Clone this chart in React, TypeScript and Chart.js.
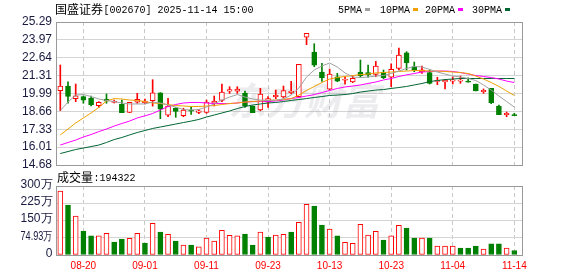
import React, { useEffect, useRef } from "react";
import { Chart, registerables } from "chart.js";

Chart.register(...registerables);

// ---------- data ----------
const titleName = "国盛证券";
const titleInfo = "[002670] 2025-11-14 15:00";
const volumeTitle = "成交量";
const volumeInfo = ":194322";
const maLabels = ["5PMA", "10PMA", "20PMA", "30PMA"];

const dates = [
  "08-15", "08-18", "08-19", "08-20", "08-21", "08-22", "08-25", "08-26", "08-27", "08-28",
  "08-29", "09-01", "09-02", "09-03", "09-04", "09-05", "09-08", "09-09", "09-10", "09-11",
  "09-12", "09-15", "09-16", "09-17", "09-18", "09-19", "09-22", "09-23", "09-24", "09-25",
  "09-26", "09-29", "09-30", "10-09", "10-10", "10-13", "10-14", "10-15", "10-16", "10-17",
  "10-20", "10-21", "10-22", "10-23", "10-24", "10-27", "10-28", "10-29", "10-30", "10-31",
  "11-03", "11-04", "11-05", "11-06", "11-07", "11-10", "11-11", "11-12", "11-13", "11-14",
];

const labelIndexes = [3, 11, 19, 27, 35, 43, 51, 59];

const opens = [
  20.19, 20.54, 19.60, 19.75, 19.63, 19.08, 19.58, 19.33, 19.18, 18.59,
  19.35, 19.31, 19.45, 20.03, 18.37, 18.91, 18.34, 18.76, 18.58, 18.59,
  19.26, 19.48, 20.15, 20.15, 20.02, 19.06, 18.76, 19.35, 19.73, 19.73,
  20.05, 19.75, 24.16, 23.06, 21.58, 20.30, 21.23, 20.97, 20.84, 21.58,
  21.53, 21.41, 21.56, 21.19, 21.85, 23.01, 21.98, 21.60, 21.53, 20.89,
  20.84, 20.91, 20.91, 20.91, 20.69, 20.12, 20.37, 19.06, 18.41, 18.41,
];
const highs = [
  22.10, 20.86, 20.69, 19.80, 19.80, 19.38, 19.95, 19.50, 19.50, 19.33,
  20.00, 19.58, 21.01, 20.05, 19.63, 18.93, 18.89, 19.00, 18.81, 19.50,
  19.80, 20.69, 20.49, 20.49, 20.17, 19.06, 20.37, 19.75, 20.24, 20.54,
  20.89, 22.15, 24.45, 23.68, 22.23, 21.80, 21.48, 21.23, 21.28, 22.47,
  22.10, 22.37, 21.73, 22.19, 23.36, 23.09, 22.32, 22.03, 21.73, 21.19,
  21.04, 21.23, 21.28, 21.14, 20.69, 20.32, 20.37, 19.13, 18.61, 18.52,
];
const lows = [
  18.71, 19.26, 19.38, 19.26, 19.06, 18.96, 19.26, 19.28, 18.56, 18.56,
  19.26, 19.21, 19.05, 18.12, 18.26, 18.22, 18.26, 18.44, 18.49, 18.52,
  19.06, 19.38, 19.99, 20.00, 18.96, 18.56, 18.71, 18.96, 19.60, 19.65,
  19.95, 19.70, 23.61, 21.97, 20.89, 20.24, 20.86, 20.67, 20.79, 21.19,
  21.19, 21.23, 21.09, 20.49, 21.73, 21.73, 21.60, 21.48, 20.69, 20.64,
  20.32, 20.69, 20.74, 20.82, 20.17, 20.00, 19.23, 18.41, 18.26, 18.34,
];
const closes = [
  20.54, 19.77, 19.81, 19.50, 19.13, 19.33, 19.41, 19.38, 18.56, 19.33,
  19.55, 19.43, 20.03, 18.82, 19.06, 18.66, 18.76, 18.68, 18.70, 19.35,
  19.43, 20.10, 20.28, 20.32, 19.06, 18.56, 19.95, 19.60, 19.87, 20.20,
  20.17, 22.15, 24.45, 22.08, 21.14, 21.43, 20.91, 21.04, 21.11, 21.31,
  21.38, 22.03, 21.16, 21.78, 22.84, 22.27, 21.70, 21.74, 20.74, 20.94,
  20.97, 21.00, 20.97, 20.82, 20.17, 20.22, 19.30, 18.41, 18.52, 18.34,
];

const ma5 = [
  18.72, 19.35, 19.87, 19.91, 19.76, 19.58, 19.47, 19.39, 19.28, 19.21,
  19.21, 19.21, 19.35, 19.28, 19.13, 18.98, 18.80, 18.76, 18.80, 18.98,
  19.21, 19.50, 19.72, 19.91, 19.72, 19.58, 19.50, 19.47, 19.50, 19.58,
  19.87, 20.39, 21.21, 21.73, 22.03, 22.25, 21.95, 21.51, 21.21, 21.17,
  21.21, 21.28, 21.32, 21.47, 21.65, 21.84, 21.99, 21.95, 21.77, 21.58,
  21.43, 21.28, 21.21, 21.10, 20.95, 20.62, 20.24, 19.80, 19.39, 18.98,
];
const ma10 = [
  16.91, 17.35, 17.80, 18.17, 18.54, 18.95, 19.43, 19.61, 19.58, 19.50,
  19.47, 19.39, 19.28, 19.24, 19.17, 19.09, 19.06, 19.02, 19.02, 19.06,
  19.09, 19.17, 19.24, 19.28, 19.35, 19.39, 19.43, 19.47, 19.50, 19.54,
  19.61, 19.87, 20.21, 20.51, 20.80, 21.06, 21.17, 21.25, 21.32, 21.39,
  21.43, 21.51, 21.54, 21.58, 21.62, 21.65, 21.69, 21.69, 21.65, 21.65,
  21.62, 21.58, 21.54, 21.47, 21.28, 21.06, 20.80, 20.51, 20.17, 19.84,
];
const ma20 = [
  16.16, 16.35, 16.53, 16.76, 16.94, 17.16, 17.35, 17.57, 17.76, 17.94,
  18.17, 18.33, 18.50, 18.76, 19.02, 19.17, 19.28, 19.32, 19.32, 19.28,
  19.24, 19.24, 19.24, 19.28, 19.35, 19.39, 19.39, 19.39, 19.43, 19.50,
  19.61, 19.69, 19.80, 19.90, 20.06, 20.21, 20.36, 20.47, 20.54, 20.62,
  20.73, 20.84, 20.99, 21.10, 21.25, 21.37, 21.47, 21.58, 21.62, 21.65,
  21.65, 21.62, 21.54, 21.43, 21.32, 21.25, 21.17, 21.06, 20.91, 20.80,
];
const ma30 = [
  15.53, 15.68, 15.83, 15.94, 16.05, 16.16, 16.35, 16.57, 16.72, 16.91,
  17.09, 17.24, 17.39, 17.50, 17.61, 17.72, 17.83, 17.94, 18.06, 18.24,
  18.39, 18.54, 18.69, 18.87, 19.02, 19.13, 19.21, 19.28, 19.32, 19.39,
  19.47, 19.54, 19.61, 19.69, 19.76, 19.84, 19.87, 19.91, 19.98, 20.09,
  20.17, 20.24, 20.28, 20.36, 20.43, 20.51, 20.62, 20.73, 20.87, 20.95,
  21.02, 21.06, 21.10, 21.10, 21.10, 21.10, 21.10, 21.10, 21.10, 21.10,
];

// volume in 万
const volumes = [
  278, 217, 169, 104, 83, 83, 94, 56, 69, 72,
  94, 52, 138, 100, 90, 61, 43, 43, 35, 74,
  61, 107, 85, 83, 91, 43, 100, 78, 87, 90,
  100, 142, 220, 213, 130, 113, 83, 55, 51, 133,
  87, 103, 65, 83, 129, 117, 74, 74, 74, 39,
  39, 39, 30, 30, 39, 26, 48, 48, 30, 19.43,
];

const priceTicks = [14.68, 16.0065, 17.333, 18.6595, 19.986, 21.3125, 22.639, 23.9655, 25.292];
const volumeTicks = [0, 74.93, 149.86, 224.79, 299.72];

// ---------- styles ----------
const RED = "#ff0000";
const GREEN = "#008000";
const MA_COLORS = ["#a0a0a0", "#f0a000", "#ff00ff", "#006633"];
const GRID = "#d4d4d4";
const VGRID = "#c8c8c8";
const FRAME = "#999999";
const AXIS_TEXT = "#1a1a40";
const X_MIN = -0.56;
const X_MAX = 60;

const fmtPrice = (v: number) => (Math.round(v * 100 + 1e-6) / 100).toFixed(2);
const fmtVol = (v: number) => (v === 0 ? "0" : v >= 100 ? Math.round(v) + "万" : v.toFixed(2) + "万");

const framePlugin = {
  id: "frame",
  afterDraw(chart: any) {
    const { ctx, chartArea: a } = chart;
    ctx.save();
    ctx.strokeStyle = FRAME;
    ctx.lineWidth = 1;
    ctx.strokeRect(a.left + 0.5, a.top + 0.5, a.right - a.left, a.bottom - a.top);
    ctx.restore();
  },
};

const watermarkPlugin = {
  id: "watermark",
  beforeDatasetsDraw(chart: any) {
    const ctx = chart.ctx;
    ctx.save();
    ctx.fillStyle = "rgba(150,150,160,0.18)";
    ctx.font = 'italic bold 38px "Noto Sans CJK SC"';
    ctx.textBaseline = "alphabetic";
    ctx.textAlign = "left";
    ctx.fillText("东方财富", 228, 115);
    ctx.restore();
  },
};

const headerPlugin = {
  id: "header",
  afterDraw(chart: any) {
    const ctx = chart.ctx;
    ctx.save();
    ctx.textBaseline = "alphabetic";
    ctx.textAlign = "left";
    ctx.fillStyle = "#000";
    ctx.font = '12px "Noto Sans CJK SC"';
    ctx.fillText(titleName, 55, 14);
    ctx.font = '10px "Liberation Mono"';
    ctx.fillText(titleInfo, 103.5, 13);
    const xs = [338, 380, 425, 472];
    maLabels.forEach((lab, i) => {
      ctx.fillStyle = "#000";
      ctx.fillText(lab, xs[i], 13);
      const w = ctx.measureText(lab).width;
      ctx.fillStyle = MA_COLORS[i];
      ctx.fillRect(Math.round(xs[i] + w + 3), 8, 5, 3);
    });
    ctx.restore();
  },
};

const volHeaderPlugin = {
  id: "volHeader",
  afterDraw(chart: any) {
    const ctx = chart.ctx;
    ctx.save();
    ctx.textBaseline = "alphabetic";
    ctx.textAlign = "left";
    ctx.fillStyle = "#000";
    ctx.font = '12px "Noto Sans CJK SC"';
    ctx.fillText(volumeTitle, 57, 182);
    ctx.font = '10px "Liberation Mono"';
    ctx.fillText(volumeInfo, 93.5, 181);
    // y labels (compressed to a fixed width like the original)
    const y = chart.scales.y;
    ctx.fillStyle = AXIS_TEXT;
    ctx.font = '12px "Liberation Sans"';
    ctx.textAlign = "right";
    ctx.textBaseline = "middle";
    volumeTicks.forEach((v) => {
      ctx.fillText(fmtVol(v), 52.5, y.getPixelForValue(v) - 1.5, 32);
    });
    ctx.restore();
  },
};

export default function App() {
  const mainRef = useRef<HTMLCanvasElement>(null);
  const volRef = useRef<HTMLCanvasElement>(null);

  useEffect(() => {
    const candleUp = closes.map((c, i) => c >= opens[i]);
    const volUp = closes.map((c, i) => (i === 0 ? true : c > closes[i - 1]));

    const xScaleBase = {
      type: "linear" as const,
      min: X_MIN,
      max: X_MAX,
      offset: false,
      afterBuildTicks: (s: any) => {
        s.ticks = labelIndexes.map((v) => ({ value: v }));
      },
      grid: { color: VGRID, drawTicks: false, offset: false, lineWidth: 1 },
      border: { display: false, dash: [4, 3] },
    };

    const maSeries = [ma5, ma10, ma20, ma30];

    const main = new Chart(mainRef.current!, {
      type: "bar",
      data: {
        datasets: [
          ...maSeries.map((arr, k) => ({
            type: "line" as const,
            data: arr.map((v, i) => ({ x: i, y: v })),
            borderColor: MA_COLORS[k],
            borderWidth: 1,
            pointRadius: 0,
            tension: 0,
          })),
          {
            type: "bar" as const,
            data: opens.map((o, i) => ({ x: i, y: [o, closes[i]] })) as any,
            backgroundColor: candleUp.map((u) => (u ? "#ffffff" : GREEN)),
            borderColor: candleUp.map((u) => (u ? RED : GREEN)),
            borderWidth: 1,
            borderSkipped: false,
            barThickness: 5,
            minBarLength: 1,
            grouped: false,
          },
          {
            type: "bar" as const,
            data: lows.map((l, i) => ({ x: i, y: [l, highs[i]] })) as any,
            backgroundColor: candleUp.map((u) => (u ? RED : GREEN)),
            borderWidth: 0,
            barThickness: 1,
            grouped: false,
          },
        ],
      },
      options: {
        responsive: false,
        animation: false,
        maintainAspectRatio: false,
        layout: { padding: { left: 0, right: 56, top: 22, bottom: 111 } },
        plugins: { legend: { display: false }, tooltip: { enabled: false } },
        scales: {
          x: {
            ...xScaleBase,
            ticks: { display: false },
            afterFit: (s: any) => {
              s.height = 0;
            },
          },
          y: {
            type: "linear",
            min: priceTicks[0],
            max: priceTicks[priceTicks.length - 1],
            beginAtZero: false,
            afterBuildTicks: (s: any) => {
              s.ticks = priceTicks.map((v) => ({ value: v }));
            },
            afterFit: (s: any) => {
              s.width = 56;
            },
            ticks: {
              padding: 4,
              color: AXIS_TEXT,
              font: { family: "Liberation Sans", size: 12 },
              callback: (v: any) => fmtPrice(Number(v)),
            },
            grid: { color: GRID, drawTicks: false, lineWidth: 1 },
            border: { display: false },
          },
        },
      } as any,
      plugins: [watermarkPlugin, framePlugin, headerPlugin],
    } as any);

    const vol = new Chart(volRef.current!, {
      type: "bar",
      data: {
        datasets: [
          {
            data: volumes.map((v, i) => ({ x: i, y: v })) as any,
            backgroundColor: volUp.map((u) => (u ? "#ffffff" : GREEN)),
            borderColor: volUp.map((u) => (u ? RED : GREEN)),
            borderWidth: 1,
            borderSkipped: false,
            barThickness: 5,
            grouped: false,
          },
        ],
      },
      options: {
        responsive: false,
        animation: false,
        maintainAspectRatio: false,
        layout: { padding: { left: 0, right: 56, top: 186, bottom: 0 } },
        plugins: { legend: { display: false }, tooltip: { enabled: false } },
        scales: {
          x: {
            ...xScaleBase,
            ticks: {
              display: true,
              autoSkip: false,
              maxRotation: 0,
              padding: 5,
              color: RED,
              font: { family: "Liberation Sans", size: 10 },
              callback: (v: any) => dates[Number(v)],
            },
            afterFit: (s: any) => {
              s.height = 21;
            },
          },
          y: {
            type: "linear",
            min: 0,
            max: volumeTicks[volumeTicks.length - 1],
            afterBuildTicks: (s: any) => {
              s.ticks = volumeTicks.map((v) => ({ value: v }));
            },
            afterFit: (s: any) => {
              s.width = 56;
            },
            ticks: { display: false },
            grid: { color: GRID, drawTicks: false, lineWidth: 1 },
            border: { display: false },
          },
        },
      } as any,
      plugins: [framePlugin, volHeaderPlugin],
    } as any);

    return () => {
      main.destroy();
      vol.destroy();
    };
  }, []);

  return (
    <div style={{ position: "fixed", left: 0, top: 0, width: 578, height: 276, background: "#ffffff" }}>
      <canvas ref={mainRef} width={578} height={276} style={{ position: "absolute", left: 0, top: 0 }} />
      <canvas ref={volRef} width={578} height={276} style={{ position: "absolute", left: 0, top: 0 }} />
    </div>
  );
}
